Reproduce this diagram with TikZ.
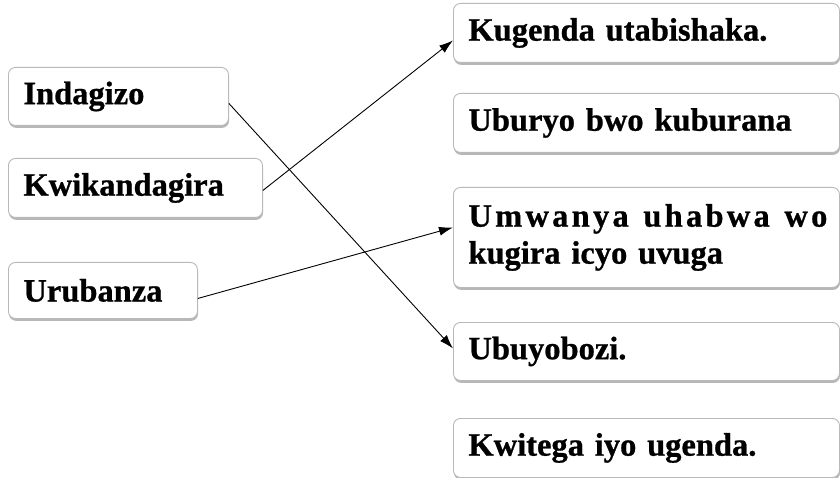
\documentclass[tikz,border=0pt]{standalone}
\usepackage{fontspec}
\setmainfont{Liberation Serif}[BoldFeatures={FakeBold=0.8}]
\usetikzlibrary{shadows,arrows.meta}
\begin{document}
\begin{tikzpicture}[x=1pt,y=-1pt,
  box/.style={draw=gray!55, line width=0.9pt, rounded corners=7pt, fill=white,
    anchor=north west, inner xsep=15pt, inner ysep=0pt, align=left,
    font=\fontsize{32.5}{37}\selectfont\bfseries,
    drop shadow={shadow xshift=0.6pt, shadow yshift=-2.4pt, opacity=0.7, fill=gray!80}},
  link/.style={-{Latex[length=14pt,width=9pt]}, line width=0.9pt}]
\useasboundingbox (0,0) rectangle (840,478);
% left column
\node[box, text width=190pt, minimum height=58pt] (a) at (8,67) {Indagizo};
\node[box, text width=224pt, minimum height=59pt] (b) at (8,158) {Kwikandagira};
\node[box, text width=159pt, minimum height=56pt] (c) at (8,262) {Urubanza};
% right column
\node[box, text width=356pt, minimum height=59pt] (r1) at (453,3) {Kugenda utabishaka.};
\node[box, text width=356pt, minimum height=59pt] (r2) at (453,93) {Uburyo bwo kuburana};
\node[box, text width=356pt, minimum height=100pt] (r3) at (453,187)
  {\makebox[359pt][s]{\addfontfeature{LetterSpace=10}Umwanya\hfill uhabwa\hfill wo}\\kugira icyo uvuga};
\node[box, text width=356pt, minimum height=58pt] (r4) at (453,322) {Ubuyobozi.};
\node[box, text width=356pt, minimum height=59pt] (r5) at (453,418) {Kwitega iyo ugenda.};
% connectors
\draw[link] ([yshift=-7pt]a.east) -- ([yshift=3pt]r4.west);
\draw[link] ([yshift=-2.5pt]b.east) -- ([yshift=-7.5pt]r1.west);
\draw[link] ([yshift=-8pt]c.east) -- ([yshift=10pt]r3.west);
\end{tikzpicture}
\end{document}
